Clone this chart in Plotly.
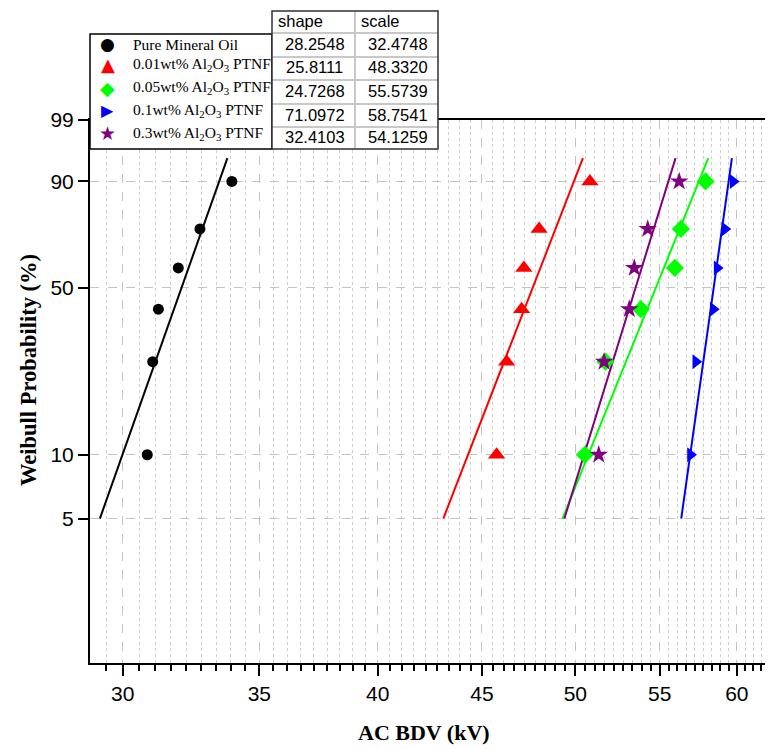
import numpy as np
import plotly.graph_objects as go

# ---------------- data ----------------
series_names = [
    "Pure Mineral Oil",
    "0.01wt% Al<sub>2</sub>O<sub>3</sub> PTNF",
    "0.05wt% Al<sub>2</sub>O<sub>3</sub> PTNF",
    "0.1wt% Al<sub>2</sub>O<sub>3</sub> PTNF",
    "0.3wt% Al<sub>2</sub>O<sub>3</sub> PTNF",
]
probability = [10, 26, 42, 58, 74, 90]          # Weibull probability (%)
bdv_pure = [30.84, 31.03, 31.23, 31.94, 32.73, 33.93]
bdv_001 = [45.75, 46.27, 47.06, 47.18, 48.00, 50.83]
bdv_005 = [50.54, 51.73, 53.84, 55.95, 56.33, 57.92]
bdv_01 = [56.94, 57.28, 58.42, 58.68, 59.19, 59.75]
bdv_03 = [51.34, 51.65, 53.14, 53.44, 54.26, 56.22]
shape_params = [28.2548, 25.8111, 24.7268, 71.0972, 32.4103]
scale_params = [32.4748, 48.3320, 55.5739, 58.7541, 54.1259]
fit_prob_span = [5, 95]
x_tick_vals = [30, 35, 40, 45, 50, 55, 60]
y_tick_vals = [5, 10, 50, 90, 99]

# ---------------- styles ----------------
colors = ["#000000", "#FF0000", "#00FF00", "#0000FF", "#800080"]
symbols = ["circle", "triangle-up", "diamond", "triangle-right", "star"]
msizes = [11, 15, 14, 13, 14]
glyphs = ["\u25CF", "\u25B2", "\u25C6", "\u25B6", "\u2605"]
gsizes = [17, 18, 19, 16, 19]
all_bdv = [bdv_pure, bdv_001, bdv_005, bdv_01, bdv_03]

OFF = 8  # page body margin
W, H = 773 - OFF, 749 - OFF
PL, PR, PT, PB = 90, 773, 120, 663     # plot area in page pixels
ML, MR, MT, MB = PL - OFF, 773 - PR, PT - OFF, (H + OFF) - PB
PW, PH = PR - PL, PB - PT


def wt(p):
    p = np.asarray(p, dtype=float) / 100.0
    return np.log(-np.log(1.0 - p))


def px(x):
    return (x - PL) / PW


def py(y):
    return (PB - y) / PH


fig = go.Figure()

p_line = np.linspace(fit_prob_span[0], fit_prob_span[1], 40)
for i in range(5):
    xl = scale_params[i] * (-np.log(1 - p_line / 100.0)) ** (1.0 / shape_params[i])
    fig.add_trace(go.Scatter(x=xl, y=wt(p_line), mode="lines",
                             line=dict(color=colors[i], width=2),
                             showlegend=False, hoverinfo="skip"))
for i in range(5):
    fig.add_trace(go.Scatter(x=all_bdv[i], y=wt(probability), mode="markers",
                             marker=dict(symbol=symbols[i], size=msizes[i],
                                         color=colors[i], line=dict(width=0)),
                             name=series_names[i], showlegend=False,
                             cliponaxis=False))

# minor ticks: 8 between each pair of major ticks
minor_vals = []
step = (x_tick_vals[1] - x_tick_vals[0]) / 9.0
v = x_tick_vals[0] - 2 * step
while v < 63:
    if all(abs(v - t) > 1e-6 for t in x_tick_vals):
        minor_vals.append(round(v, 4))
    v += step

fig.update_xaxes(
    type="log",
    range=[np.log10(28.91), np.log10(62.5)],
    tickmode="array", tickvals=x_tick_vals, ticktext=[str(t) for t in x_tick_vals],
    ticks="outside", ticklen=11, tickwidth=2, tickcolor="black",
    showline=True, linewidth=2, linecolor="black", mirror=True,
    showgrid=True, gridcolor="#c4c4c4", gridwidth=1, griddash="dash",
    zeroline=False,
    tickfont=dict(family="Liberation Sans, Arial", size=21, color="black"),
    minor=dict(tickmode="array", tickvals=minor_vals, ticks="outside",
               ticklen=6, tickwidth=2, tickcolor="black",
               showgrid=True, gridcolor="#cfcfcf", gridwidth=1, griddash="dot"),
)
fig.update_yaxes(
    range=[float(wt(1)), float(wt(99))],
    tickmode="array", tickvals=list(wt(y_tick_vals)), ticktext=[str(t) for t in y_tick_vals],
    ticks="outside", ticklen=10, tickwidth=2, tickcolor="black",
    showline=True, linewidth=2, linecolor="black",
    showgrid=True, gridcolor="#c4c4c4", gridwidth=1, griddash="dash",
    zeroline=False,
    tickfont=dict(family="Liberation Sans, Arial", size=21, color="black"),
)

shapes = []
annotations = []

# legend box
lg_l, lg_r, lg_t, lg_b = 90, 272, 34, 149
shapes.append(dict(type="rect", xref="paper", yref="paper", layer="above",
                   x0=px(lg_l), x1=px(lg_r), y0=py(lg_b), y1=py(lg_t),
                   fillcolor="white", line=dict(color="black", width=1.5)))
legend_rows = [44.5, 65, 87.5, 110.5, 133]
for i in range(5):
    annotations.append(dict(xref="paper", yref="paper", x=px(107.5), y=py(legend_rows[i]),
                            text=glyphs[i], showarrow=False, xanchor="center", yanchor="middle",
                            font=dict(family="DejaVu Sans", size=gsizes[i], color=colors[i])))
    annotations.append(dict(xref="paper", yref="paper", x=px(131), y=py(legend_rows[i]),
                            text=series_names[i], showarrow=False, xanchor="left", yanchor="middle",
                            font=dict(family="Liberation Serif, Times New Roman", size=15.5,
                                      color="black")))

# parameter table
col_x = [272, 355, 438]
row_y = [11, 33, 57, 80, 104, 127, 149]
shapes.append(dict(type="rect", xref="paper", yref="paper", layer="above",
                   x0=px(col_x[0]), x1=px(col_x[2]), y0=py(row_y[-1]), y1=py(row_y[0]),
                   fillcolor="white", line=dict(width=0)))
for yy in row_y[1:-1]:
    shapes.append(dict(type="line", xref="paper", yref="paper", layer="above",
                       x0=px(col_x[0]), x1=px(col_x[2]), y0=py(yy), y1=py(yy),
                       line=dict(color="#c8c8c8", width=2)))
shapes.append(dict(type="line", xref="paper", yref="paper", layer="above",
                   x0=px(col_x[1]), x1=px(col_x[1]), y0=py(row_y[-1]), y1=py(row_y[0]),
                   line=dict(color="#c8c8c8", width=2)))
shapes.append(dict(type="rect", xref="paper", yref="paper", layer="above",
                   x0=px(col_x[0]), x1=px(col_x[2]), y0=py(row_y[-1]), y1=py(row_y[0]),
                   line=dict(color="#303030", width=1.5)))
tfont = dict(family="Liberation Sans, Arial", size=16.5, color="black")
for j, hdr in enumerate(["shape", "scale"]):
    annotations.append(dict(xref="paper", yref="paper", x=px(col_x[j] + 4),
                            y=py((row_y[0] + row_y[1]) / 2 - 1), text=hdr, showarrow=False,
                            xanchor="left", yanchor="middle", font=tfont))
for i in range(5):
    yc = py((row_y[i + 1] + row_y[i + 2]) / 2 - 1)
    annotations.append(dict(xref="paper", yref="paper", x=px((col_x[0] + col_x[1]) / 2 + 1), y=yc,
                            text=f"{shape_params[i]:.4f}", showarrow=False,
                            xanchor="center", yanchor="middle", font=tfont))
    annotations.append(dict(xref="paper", yref="paper", x=px((col_x[1] + col_x[2]) / 2 + 1), y=yc,
                            text=f"{scale_params[i]:.4f}", showarrow=False,
                            xanchor="center", yanchor="middle", font=tfont))

# axis titles
annotations.append(dict(xref="paper", yref="paper", x=px(424), y=py(732),
                        text="<b>AC BDV (kV)</b>", showarrow=False,
                        xanchor="center", yanchor="middle",
                        font=dict(family="Liberation Serif, Times New Roman", size=22, color="black")))
annotations.append(dict(xref="paper", yref="paper", x=px(28), y=py(370),
                        text="<b>Weibull Probability (%)</b>", showarrow=False, textangle=-90,
                        xanchor="center", yanchor="middle",
                        font=dict(family="Liberation Serif, Times New Roman", size=22.5, color="black")))

fig.update_layout(
    width=W, height=H,
    margin=dict(l=ML, r=MR, t=MT, b=MB, pad=0),
    paper_bgcolor="white", plot_bgcolor="white",
    showlegend=False,
    shapes=shapes, annotations=annotations,
)

fig.write_html("out.html")
